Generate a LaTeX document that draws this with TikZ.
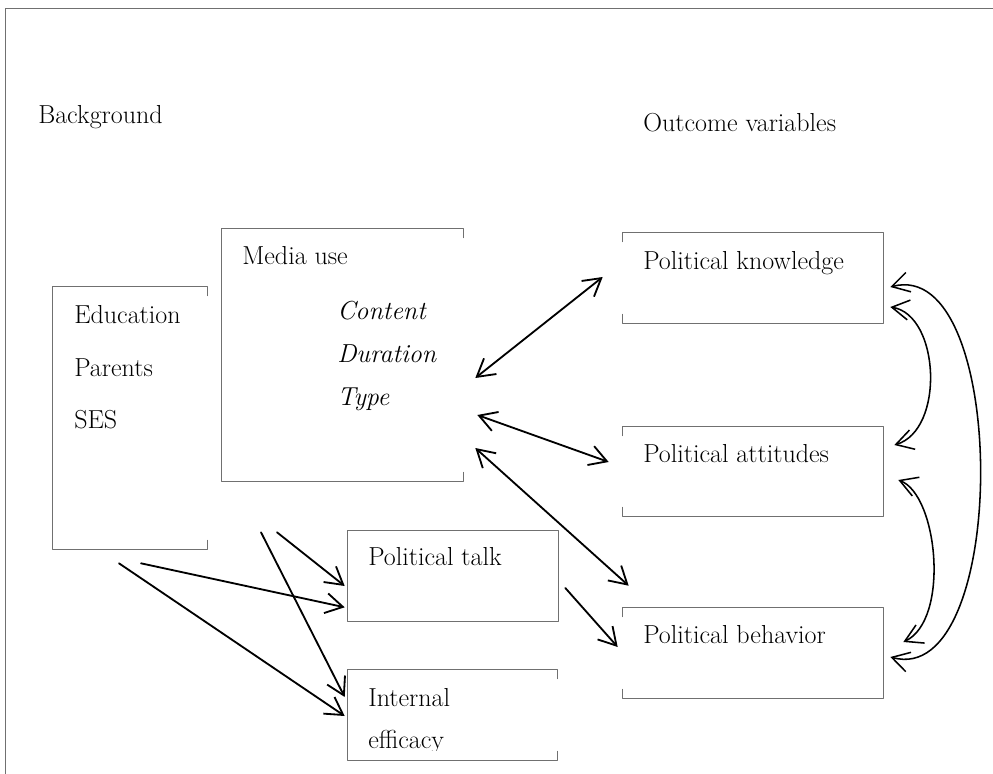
\documentclass[tikz,border=0pt]{standalone}
\usetikzlibrary{arrows.meta}
\definecolor{framegray}{RGB}{112,112,112}
% boxes whose left or right side is only hinted at the corners
\newcommand{\openleftbox}[1]{%
  \draw[frame] ([shift={(0,9)}]#1.north west) -- (#1.north west) -- (#1.north east)
    -- (#1.south east) -- (#1.south west) -- ([shift={(0,-9)}]#1.south west);}
\newcommand{\openrightbox}[1]{%
  \draw[frame] ([shift={(0,9)}]#1.north east) -- (#1.north east) -- (#1.north west)
    -- (#1.south west) -- (#1.south east) -- ([shift={(0,-9)}]#1.south east);}
\begin{document}
\begin{tikzpicture}[x=0.025cm, y=-0.025cm, font=\fontsize{18.5}{22}\selectfont,
    line join=round, line cap=round, >={Straight Barb[length=4.3mm,width=5mm]},
    frame/.style={draw=framegray, line width=0.6pt},
    box/.style={rectangle, inner sep=0pt},
    lbl/.style={anchor=base west, inner sep=0pt},
    link/.style={line width=1.3pt},
    loop/.style={line width=1.1pt}]
	\useasboundingbox (0,0) rectangle (993,774);
	\draw[frame] (5,774) -- (5,8) -- (993,8);
	% boxes
	\node[box, minimum width=3.85cm, minimum height=6.55cm] (edu) at (130,418) {};
	\node[box, minimum width=6.025cm, minimum height=6.3cm] (media) at (342.5,355) {};
	\node[box, minimum width=6.5cm, minimum height=2.25cm] (know) at (753,278) {};
	\node[box, minimum width=6.5cm, minimum height=2.225cm] (att) at (753,471.5) {};
	\node[box, minimum width=6.5cm, minimum height=2.25cm] (beh) at (753,653) {};
	\node[box, minimum width=5.25cm, minimum height=2.25cm] (talk) at (453,576) {};
	\node[box, minimum width=5.225cm, minimum height=2.25cm] (eff) at (452.5,715) {};
	\openrightbox{edu}
	\openrightbox{media}
	\openrightbox{eff}
	\openleftbox{know}
	\openleftbox{att}
	\openleftbox{beh}
	\draw[frame] (talk.north west) rectangle (talk.south east);
	% texts
	\node[lbl] (bgtxt) at (38,124) {Background};
	\node[lbl] (outtxt) at (643,132) {Outcome variables};
	\node[lbl] (edutxt) at (74,324) {Education};
	\node[lbl] (partxt) at (74,376) {Parents};
	\node[lbl] (sestxt) at (74,428) {SES};
	\node[lbl] (medtxt) at (242,265) {Media use};
	\node[lbl] (contxt) at (337,319) {\itshape Content};
	\node[lbl] (durtxt) at (337,362) {\itshape Duration};
	\node[lbl] (typtxt) at (337,405) {\itshape Type};
	\node[lbl] (knotxt) at (643,270) {Political knowledge};
	\node[lbl] (atttxt) at (643,462) {Political attitudes};
	\node[lbl] (behtxt) at (643,643) {Political behavior};
	\node[lbl] (taltxt) at (368,565) {Political talk};
	\node[lbl] (inttxt) at (368,706) {Internal};
	\begin{scope}
		\clip (eff.west) rectangle ([shift={(0,-10)}]eff.south east);
		\node[lbl] (efftxt) at (368,748) {efficacy};
	\end{scope}
	% media use and the outcomes
	\draw[link,<->] ([shift={(12,23)}]media.east) -- ([shift={(-20,-1)}]know.west);
	\draw[link,<->] ([shift={(14,60)}]media.east) -- ([shift={(-14,-9.5)}]att.west);
	\draw[link,<->] ([shift={(12,93)}]media.east) -- ([shift={(6,-22)}]beh.north west);
	\draw[link,->] ([shift={(7,12)}]talk.east) -- ([shift={(-5,-6)}]beh.west);
	% background and media use into talk and efficacy
	\draw[link,->] ([shift={(11,14)}]edu.south) -- ([shift={(-3,-14)}]talk.south west);
	\draw[link,->] ([shift={(-11,14)}]edu.south) -- ([shift={(-3,1)}]eff.west);
	\draw[link,->] ([shift={(-65.5,51)}]media.south) -- ([shift={(-3,10)}]talk.west);
	\draw[link,->] ([shift={(-81.5,51)}]media.south) -- ([shift={(-3,-18)}]eff.west);
	% links among the outcomes
	\draw[loop,<->] ([shift={(7,29)}]know.east) .. controls (940,315) and (945,430) .. ([shift={(11,-26.5)}]att.east);
	\draw[loop,<->] ([shift={(15,8.5)}]att.east) .. controls (938,495) and (950,620) .. ([shift={(20,-11)}]beh.east);
	\draw[loop,<->] ([shift={(7,9)}]know.east) .. controls (1010,255) and (1010,690) .. ([shift={(7,4)}]beh.east);
\end{tikzpicture}
\end{document}
